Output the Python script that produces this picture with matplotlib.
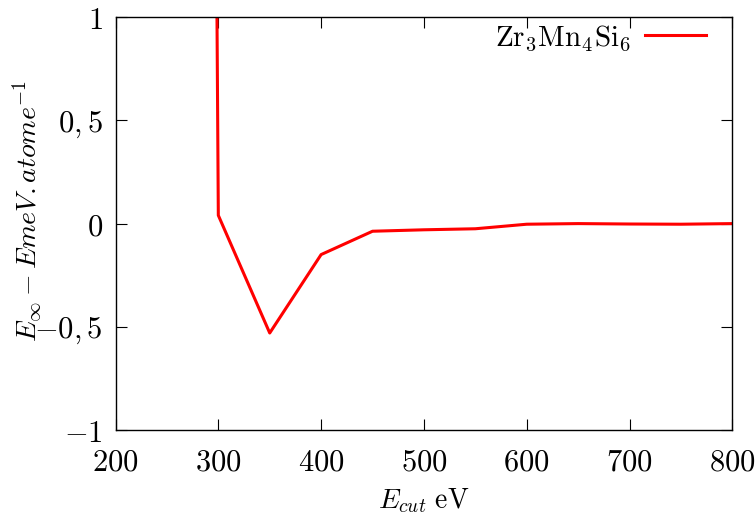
import matplotlib
matplotlib.use('Agg')
import matplotlib.pyplot as plt

plt.rcParams['mathtext.fontset'] = 'cm'
plt.rcParams['font.family'] = ['DejaVu Serif']
plt.rcParams['font.size'] = 20

# cut-off energy (eV) and energy difference
e_cut = [250, 300, 350, 400, 450, 500, 550, 600, 650, 700, 750, 800]
delta_e = [37.0, 0.04, -0.53, -0.15, -0.037, -0.03, -0.025, -0.003, 0.0, -0.002, -0.003, 0.0]

x_ticks = [200, 300, 400, 500, 600, 700, 800]
y_ticks = [-1, -0.5, 0, 0.5, 1]
y_tick_labels = ['$-1$', '$-0,5$', '$0$', '$0,5$', '$1$']

fig = plt.figure(figsize=(7.55, 5.2), dpi=100)
ax = fig.add_axes([0.153, 0.173, 0.817, 0.794])

ax.plot(e_cut, delta_e, color='red', lw=2.2, label=r'$\mathrm{Zr_3Mn_4Si_6}$')

ax.set_xlim(200, 800)
ax.set_ylim(-1, 1)
ax.set_xticks(x_ticks)
ax.set_xticklabels(['$%d$' % t for t in x_ticks])
ax.set_yticks(y_ticks)
ax.set_yticklabels(y_tick_labels)
ax.tick_params(direction='in', top=True, right=True, length=8, width=0.8, labelsize=22)
ax.tick_params(axis='x', pad=12)
ax.tick_params(axis='y', pad=9)
for s in ax.spines.values():
    s.set_linewidth(1.0)

ax.set_xlabel(r'$E_{cut}\ \mathrm{eV}$', labelpad=6)
ax.set_ylabel(r'$E_\infty - EmeV.atome^{-1}$')
ax.yaxis.set_label_coords(-0.118, 0.53)

ax.legend(loc='upper right', bbox_to_anchor=(0.958, 0.985), frameon=False,
          markerfirst=False, handlelength=2.1, borderaxespad=0, borderpad=0,
          handletextpad=0.5, fontsize=21)

fig.savefig('out.png', dpi=100)
